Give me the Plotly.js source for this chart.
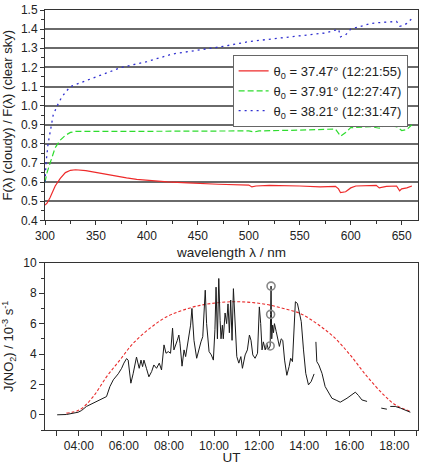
<!DOCTYPE html>
<html>
<head>
<meta charset="utf-8">
<script src="https://cdn.plot.ly/plotly-3.0.1.min.js"></script>
<style>
  html, body { margin: 0; padding: 0; background: #fff; }
  #chart { width: 422px; height: 465px; }
</style>
</head>
<body>
<div id="chart"></div>
<script>
// Spectral ratio of cloudy to clear-sky actinic flux, three scans
const wlRed = [300, 302, 305, 310, 315, 320, 325, 330, 340, 350, 360, 370, 380, 390, 400, 420, 440, 450, 470, 500, 503, 507, 520, 550, 570, 585, 588, 590, 595, 600, 605, 625, 628, 635, 645, 648, 650, 655, 660];
const ratioRed = [0.48, 0.49, 0.52, 0.58, 0.62, 0.65, 0.662, 0.665, 0.66, 0.65, 0.64, 0.63, 0.622, 0.615, 0.61, 0.602, 0.596, 0.593, 0.589, 0.585, 0.575, 0.58, 0.583, 0.58, 0.575, 0.578, 0.565, 0.545, 0.55, 0.57, 0.58, 0.583, 0.57, 0.578, 0.58, 0.555, 0.565, 0.57, 0.58];

const wlGreen = [300, 302, 305, 310, 315, 320, 325, 330, 360, 400, 450, 500, 505, 510, 550, 570, 585, 590, 595, 600, 620, 628, 632, 640, 645, 650, 655, 660];
const ratioGreen = [0.6, 0.65, 0.7, 0.78, 0.82, 0.845, 0.86, 0.865, 0.865, 0.865, 0.866, 0.868, 0.862, 0.868, 0.872, 0.875, 0.878, 0.84, 0.86, 0.885, 0.89, 0.882, 0.892, 0.893, 0.89, 0.87, 0.875, 0.9];

const wlBlue = [300, 301, 303, 305, 308, 312, 316, 320, 325, 330, 340, 350, 375, 400, 425, 450, 475, 500, 525, 550, 575, 585, 588, 590, 595, 600, 610, 620, 630, 640, 645, 648, 652, 655, 660];
const ratioBlue = [0.6, 0.7, 0.8, 0.87, 0.95, 1.0, 1.04, 1.07, 1.1, 1.11, 1.13, 1.15, 1.2, 1.23, 1.27, 1.29, 1.31, 1.335, 1.35, 1.365, 1.38, 1.395, 1.40, 1.36, 1.37, 1.40, 1.415, 1.43, 1.435, 1.44, 1.44, 1.415, 1.42, 1.43, 1.455];

const seriesNames = [
  'θ<sub>0</sub> = 37.47° (12:21:55)',
  'θ<sub>0</sub> = 37.91° (12:27:47)',
  'θ<sub>0</sub> = 38.21° (12:31:47)'
];

// Measured J(NO2) through the day (UT, decimal hours); null marks data gaps
const utMeasured = [3.04, 3.45, 3.97, 4.12, 4.34, 4.64, 4.79, 4.93, 5.16, 5.23, 5.38, 5.53, 5.75, 5.9, 6.0, 6.12, 6.19, 6.31, 6.41, 6.56, 6.68, 6.76, 6.83, 6.89, 7.0, 7.11, 7.23, 7.33, 7.45, 7.57, 7.67, 7.78, 7.87, 7.97, 8.07, 8.16, 8.22, 8.3, 8.37, 8.44, 8.49, 8.58, 8.67, 8.74, 8.86, 8.96, 9.02, 9.11, 9.23, 9.33, 9.42, 9.5, 9.57, 9.61, 9.67, 9.78, 9.88, 9.97, 10.04, 10.09, 10.15, 10.21, 10.27, 10.31, 10.37, 10.41, 10.49, 10.56, 10.62, 10.68, 10.74, 10.8, 10.86, 10.95, 11.01, 11.1, 11.19, 11.26, 11.38, 11.48, 11.57, 11.64, 11.72, 11.82, 11.93, 12.01, 12.07, 12.13, 12.19, 12.27, 12.34, 12.41, 12.49, 12.51, 12.53, 12.56, 12.6, 12.64, 12.68, 12.76, 12.83, 12.9, 12.98, 13.05, 13.13, 13.23, 13.33, 13.4, 13.48, 13.56, 13.61, 13.7, 13.79, 13.87, 13.97, 14.07, 14.19, 14.31, 14.44, 14.48, 14.52, 14.56, 14.65, 14.79, 14.93, 15.08, 15.23, 15.45, 15.6, 15.9, 16.27, 16.41, 16.56, 16.79, 17.1, 17.42, 17.67, 17.75, 17.82, 18.04, 18.27, 18.71];
const jMeasured = [0.0, 0.02, 0.17, 0.28, 0.55, 0.77, 0.88, 0.94, 1.1, 1.2, 1.86, 2.3, 2.7, 3.06, 3.4, 3.7, 3.6, 2.08, 2.7, 3.8, 3.06, 3.6, 3.17, 3.6, 3.06, 2.5, 2.84, 3.28, 3.06, 3.4, 2.95, 4.6, 4.05, 4.16, 4.05, 5.7, 4.27, 4.7, 4.9, 5.25, 4.7, 3.2, 4.27, 3.83, 4.9, 5.9, 7.0, 4.9, 3.72, 4.38, 4.8, 5.14, 6.8, 8.2, 6.0, 4.16, 3.94, 3.6, 5.6, 8.4, 5.0, 8.97, 6.2, 5.0, 5.9, 5.0, 6.7, 6.0, 7.3, 5.4, 7.55, 4.9, 8.3, 5.7, 3.83, 3.4, 3.83, 3.06, 3.94, 4.27, 5.25, 4.9, 3.94, 3.72, 4.05, 7.1, 6.0, 4.27, 4.8, 4.27, 4.7, 4.3, 4.53, 6.61, 8.47, 5.0, 5.9, 5.4, 6.0, 5.47, 4.9, 4.5, 5.0, 4.9, 3.6, 2.6, 3.17, 3.72, 3.5, 6.0, 7.44, 7.33, 6.56, 6.13, 4.27, 2.73, 1.97, 2.19, 2.69, null, 4.8, 3.5, 3.28, 2.73, 1.86, 1.42, 1.09, 0.94, 0.83, 1.09, 1.49, 1.27, 0.98, 0.88, null, 0.44, 0.37, null, 0.55, 0.55, 0.44, 0.17];

// Modelled clear-sky J(NO2)
const utClear = [3.45, 4.04, 4.64, 5.23, 5.82, 6.41, 7.16, 7.9, 8.64, 9.38, 10.12, 10.86, 11.6, 12.34, 13.08, 13.82, 14.56, 15.3, 16.04, 16.79, 17.53, 18.04, 18.71];
const jClear = [0.11, 0.33, 1.2, 2.5, 3.6, 4.7, 5.7, 6.45, 6.9, 7.2, 7.37, 7.44, 7.4, 7.26, 7.0, 6.67, 6.0, 5.14, 3.94, 2.52, 1.31, 0.66, 0.22];

// J(NO2) at the three spectral scans
const utScans = [12.49, 12.51, 12.53];
const jScans = [4.53, 6.61, 8.47];

// Hour ticks for the UT axis: labelled every two hours, plain ticks in between
const utTickVals = [4, 6, 8, 10, 12, 14, 16, 18];
const utTickText = ['04:00', '06:00', '08:00', '10:00', '12:00', '14:00', '16:00', '18:00'];
const utMinorVals = [3, 5, 7, 9, 11, 13, 15, 17, 19];

const FONT = 'Liberation Sans, Arial, sans-serif';
const AXIS_COL = '#333';

const traces = [
  { x: wlRed, y: ratioRed, name: seriesNames[0], type: 'scatter', mode: 'lines',
    line: { color: '#ee2a2a', width: 1.2 }, xaxis: 'x', yaxis: 'y' },
  { x: wlGreen, y: ratioGreen, name: seriesNames[1], type: 'scatter', mode: 'lines',
    line: { color: '#2fdc2f', width: 1.2, dash: '6px,3px' }, xaxis: 'x', yaxis: 'y' },
  { x: wlBlue, y: ratioBlue, name: seriesNames[2], type: 'scatter', mode: 'lines',
    line: { color: '#3030d0', width: 1.3, dash: '2px,4px' }, xaxis: 'x', yaxis: 'y' },
  { x: utClear, y: jClear, type: 'scatter', mode: 'lines', showlegend: false,
    line: { color: '#e82a2a', width: 1.1, dash: '3px,2px', shape: 'spline' }, xaxis: 'x2', yaxis: 'y2' },
  { x: utMeasured, y: jMeasured, type: 'scatter', mode: 'lines', showlegend: false,
    connectgaps: false, line: { color: '#1a1a1a', width: 1 }, xaxis: 'x2', yaxis: 'y2' },
  { x: utScans, y: jScans, type: 'scatter', mode: 'markers', showlegend: false,
    marker: { symbol: 'circle-open', size: 8, color: '#888', line: { width: 1.6, color: '#888' } },
    xaxis: 'x2', yaxis: 'y2' }
];

const layout = {
  width: 422, height: 465,
  margin: { l: 45, r: 4, t: 10, b: 35 },
  paper_bgcolor: '#fff', plot_bgcolor: '#fff',
  font: { family: FONT, size: 12, color: '#222' },
  showlegend: true,
  legend: {
    x: 0.503, y: 0.893, xanchor: 'left', yanchor: 'top',
    bgcolor: '#fff', bordercolor: '#666', borderwidth: 1,
    font: { family: FONT, size: 13, color: '#222' },
    tracegroupgap: 0, itemwidth: 30
  },
  xaxis: {
    domain: [0, 1], range: [300, 666], anchor: 'y',
    tickmode: 'linear', tick0: 300, dtick: 50,
    ticks: 'outside', ticklen: 4, tickcolor: AXIS_COL, tickwidth: 1,
    minor: { dtick: 25, ticks: 'outside', ticklen: 3, tickcolor: AXIS_COL, showgrid: false },
    showline: true, linecolor: AXIS_COL, linewidth: 1, mirror: true,
    showgrid: false, zeroline: false,
    tickfont: { size: 12 },
    title: { text: 'wavelength λ / nm', font: { size: 13.5 }, standoff: 5 }
  },
  yaxis: {
    domain: [0.499, 1], range: [0.4, 1.5], anchor: 'x',
    tickmode: 'linear', tick0: 0.4, dtick: 0.1, tickformat: '.1f',
    ticks: 'outside', ticklen: 4, tickcolor: AXIS_COL,
    minor: { dtick: 0.05, ticks: 'outside', ticklen: 3, tickcolor: AXIS_COL, showgrid: false },
    showline: true, linecolor: AXIS_COL, linewidth: 1, mirror: true,
    showgrid: true, gridcolor: '#6a6a6a', gridwidth: 2, zeroline: false,
    tickfont: { size: 12 },
    title: { text: 'F(λ) (cloudy) / F(λ) (clear sky)', font: { size: 13 }, standoff: 7 }
  },
  xaxis2: {
    domain: [0, 1], range: [2.5, 19.05], anchor: 'y2',
    tickmode: 'array', tickvals: utTickVals, ticktext: utTickText,
    ticks: 'outside', ticklen: 5, tickcolor: AXIS_COL,
    minor: { tickmode: 'array', tickvals: utMinorVals, ticks: 'outside', ticklen: 5, tickcolor: AXIS_COL, showgrid: false },
    showline: true, linecolor: AXIS_COL, linewidth: 1, mirror: true,
    showgrid: false, zeroline: false,
    tickfont: { size: 12 },
    title: { text: 'UT', font: { size: 13.5 }, standoff: 3 }
  },
  yaxis2: {
    domain: [0, 0.398], range: [-1, 10], anchor: 'x2',
    tickmode: 'linear', tick0: 0, dtick: 2,
    ticks: 'outside', ticklen: 5, tickcolor: AXIS_COL,
    minor: { dtick: 1, ticks: 'outside', ticklen: 3, tickcolor: AXIS_COL, showgrid: false },
    showline: true, linecolor: AXIS_COL, linewidth: 1, mirror: true,
    showgrid: false, zeroline: false,
    tickfont: { size: 12 },
    title: { text: 'J(NO<sub>2</sub>) / 10<sup>-3</sup> s<sup>-1</sup>', font: { size: 13 }, standoff: 10 }
  }
};

Plotly.newPlot('chart', traces, layout, { displayModeBar: false, staticPlot: true });
</script>
</body>
</html>
